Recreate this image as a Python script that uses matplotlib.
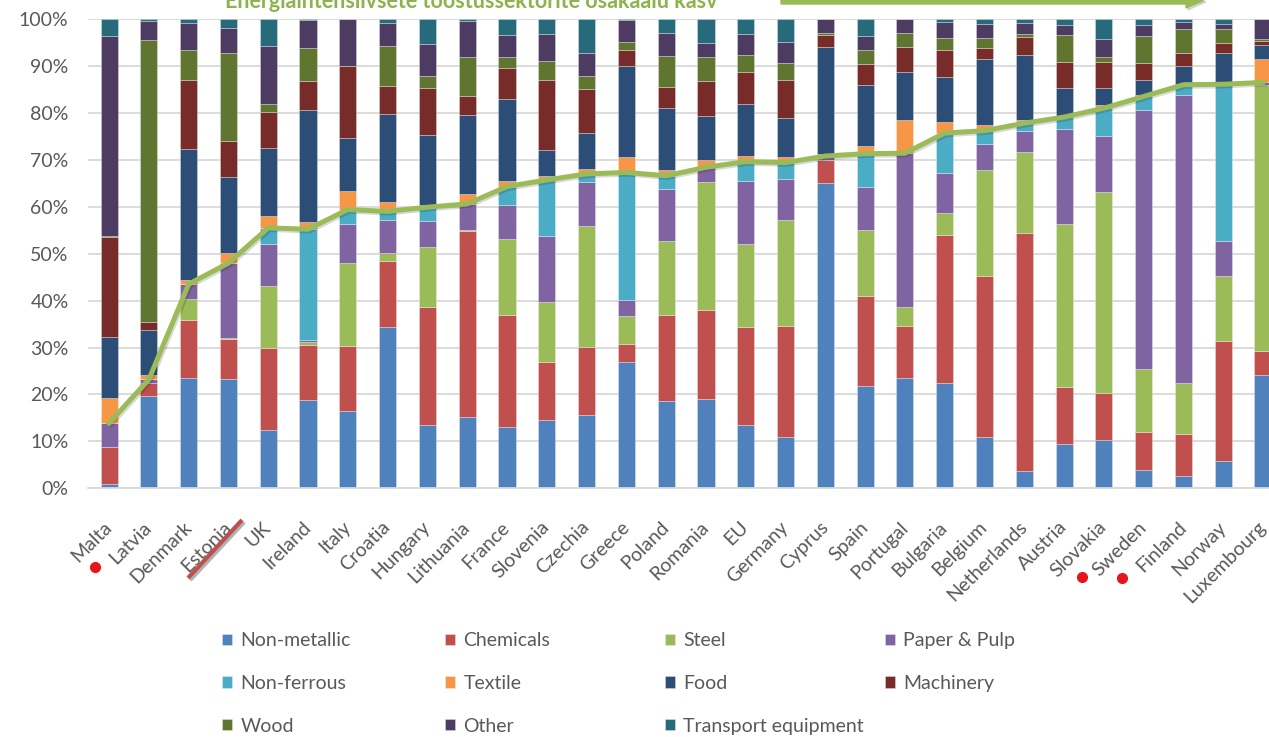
import numpy as np
import matplotlib
matplotlib.use("Agg")
import matplotlib.pyplot as plt
import matplotlib.transforms as mtransforms
import matplotlib.patheffects as pe
from matplotlib.patches import Polygon
from matplotlib.lines import Line2D

countries = ["Malta", "Latvia", "Denmark", "Estonia", "UK", "Ireland", "Italy", "Croatia",
             "Hungary", "Lithuania", "France", "Slovenia", "Czechia", "Greece", "Poland",
             "Romania", "EU", "Germany", "Cyprus", "Spain", "Portugal", "Bulgaria", "Belgium",
             "Netherlands", "Austria", "Slovakia", "Sweden", "Finland", "Norway", "Luxembourg"]

sectors = ["Non-metallic", "Chemicals", "Steel", "Paper & Pulp", "Non-ferrous", "Textile",
           "Food", "Machinery", "Wood", "Other", "Transport equipment"]

non_metallic = [0.9, 19.7, 23.6, 23.2, 12.4, 18.8, 16.5, 34.3, 13.4, 15.1, 13.1, 14.6, 15.6, 26.9, 18.5,
                19.0, 13.5, 10.9, 65.0, 21.7, 23.6, 22.4, 10.9, 3.6, 9.5, 10.3, 3.8, 2.6, 5.8, 24.2]
chemicals = [8.0, 2.7, 12.3, 8.6, 17.6, 11.8, 13.8, 14.2, 25.3, 39.7, 23.9, 12.4, 14.5, 3.8, 18.5,
             18.9, 20.8, 23.6, 4.9, 19.3, 11.0, 31.6, 34.4, 50.7, 12.0, 10.0, 8.1, 9.0, 25.5, 5.1]
steel = [0.0, 0.0, 4.4, 0.2, 13.2, 0.5, 17.8, 1.6, 12.8, 0.2, 16.1, 12.6, 25.7, 6.0, 15.6,
         27.3, 17.8, 22.6, 0.0, 14.1, 4.1, 4.7, 22.5, 17.3, 34.9, 42.8, 13.5, 10.9, 14.0, 56.6]
paper_pulp = [5.0, 0.8, 3.2, 16.0, 8.9, 0.5, 8.3, 7.0, 5.4, 5.6, 7.3, 14.2, 9.4, 3.5, 11.2,
              3.2, 13.3, 8.9, 0.9, 9.1, 32.7, 8.5, 5.6, 4.6, 20.1, 11.9, 55.2, 61.2, 7.5, 0.6]
non_ferrous = [0.0, 0.0, 0.0, 0.0, 3.4, 23.6, 3.0, 1.9, 3.0, 0.0, 3.9, 11.9, 1.8, 27.1, 2.8,
               0.0, 4.2, 3.4, 0.0, 7.1, 0.0, 8.5, 2.8, 1.6, 2.6, 6.0, 2.9, 2.3, 33.3, 0.0]
textile = [5.3, 1.0, 0.9, 2.1, 2.6, 1.5, 3.9, 2.1, 0.5, 2.2, 1.1, 0.9, 1.1, 3.3, 1.3,
           1.5, 1.3, 1.1, 0.4, 1.7, 7.1, 2.4, 1.2, 0.6, 0.3, 0.7, 0.2, 0.2, 0.2, 4.9]
food = [13.0, 9.6, 27.9, 16.2, 14.5, 23.9, 11.3, 18.6, 14.8, 16.8, 17.6, 5.5, 7.6, 19.4, 13.1,
        9.5, 11.0, 8.5, 22.8, 12.9, 10.3, 9.5, 14.0, 13.9, 5.8, 3.5, 3.3, 3.7, 6.5, 3.0]
machinery = [21.3, 1.7, 14.7, 7.6, 7.5, 6.2, 15.4, 6.0, 10.0, 3.9, 6.5, 14.9, 9.3, 3.5, 4.5,
             7.3, 6.9, 8.0, 2.6, 4.5, 5.3, 5.7, 2.5, 3.8, 5.6, 5.7, 3.6, 2.9, 2.0, 0.9]
wood = [0.3, 60.0, 6.5, 18.9, 1.8, 7.0, 0.0, 8.6, 2.7, 8.3, 2.3, 4.1, 2.9, 1.5, 6.7,
        5.1, 3.5, 3.7, 0.5, 3.1, 3.0, 2.7, 2.1, 0.6, 5.8, 1.1, 5.8, 5.0, 3.0, 0.4]
other = [42.6, 4.1, 5.6, 5.2, 12.4, 6.0, 10.0, 4.8, 6.7, 7.8, 4.7, 5.7, 4.9, 4.7, 4.9,
         3.0, 4.5, 4.3, 2.9, 2.9, 2.9, 3.3, 2.9, 2.4, 2.1, 3.7, 2.3, 1.5, 1.1, 4.3]
transport = [3.6, 0.4, 0.9, 2.0, 5.7, 0.2, 0.0, 0.9, 5.4, 0.4, 3.5, 3.2, 7.2, 0.3, 2.9,
             5.2, 3.2, 5.0, 0.0, 3.6, 0.0, 0.7, 1.1, 0.9, 1.3, 4.3, 1.3, 0.7, 1.1, 0.0]

series = [non_metallic, chemicals, steel, paper_pulp, non_ferrous, textile,
          food, machinery, wood, other, transport]
colors = ["#4F81BD", "#C0504D", "#9BBB59", "#8064A2", "#4BACC6", "#F79646",
          "#2C4D75", "#772C2A", "#5F7530", "#4D3B62", "#276A7C"]

title_text = "Energiaintensiivsete tööstussektorite osakaalu kasv"
marked_dots = ["Malta", "Slovakia", "Sweden"]

W, H = 1269, 737
fig = plt.figure(figsize=(W / 100, H / 100), dpi=100)
plt.rcParams['font.family'] = ['Lato', 'DejaVu Sans']
ax = fig.add_axes([88 / W, (H - 488.3) / H, (W - 88) / W, (488.3 - 19) / H])

x = np.arange(len(countries))
bottom = np.zeros(len(countries))
handles = []
for vals, col, name in zip(series, colors, sectors):
    v = np.array(vals)
    b = ax.bar(x, v, 0.43, bottom=bottom, color=col, label=name,
               edgecolor=(1, 1, 1, 0.35), linewidth=0.6, zorder=2)
    handles.append(b)
    bottom += v

energy_share = np.sum(np.array(series[:5]), axis=0)
ax.plot(x, energy_share, color="#9BBB59", lw=3.6, zorder=4, solid_joinstyle='round',
        path_effects=[pe.SimpleLineShadow(offset=(1.2, -1.2), alpha=0.15), pe.Normal()])

ax.set_xlim(-0.53, 29.15)
ax.set_ylim(0, 100)
ax.set_yticks(np.arange(0, 101, 10))
ax.set_yticklabels([f"{t}%" for t in range(0, 101, 10)])
ax.set_xticks(x)
ax.set_xticklabels(countries, rotation=45, ha='right', va='center', rotation_mode='anchor')
ax.tick_params(axis='both', length=0, labelsize=14, labelcolor="#595959")
ax.tick_params(axis='y', pad=14)
ax.tick_params(axis='x', pad=26)
ax.grid(axis='y', color="#D9D9D9", lw=1.3, zorder=0)
ax.set_axisbelow(True)
for s in ['left', 'right', 'top']:
    ax.spines[s].set_visible(False)
ax.spines['bottom'].set_color("#D9D9D9")
ax.spines['bottom'].set_linewidth(1.3)

# legend in 4 columns placed like the original
cols_x = [222, 445, 665, 885]
order = [[0, 4, 8], [1, 5, 9], [2, 6, 10], [3, 7]]
for cx, idxs in zip(cols_x, order):
    leg = fig.legend([handles[i] for i in idxs], [sectors[i] for i in idxs],
                     loc='upper left', bbox_to_anchor=(cx / W, 1 - 632 / H),
                     frameon=False, fontsize=14,
                     handlelength=0.5, handleheight=0.5, handletextpad=0.45,
                     labelspacing=1.33, borderaxespad=0, borderpad=0)
    for t in leg.get_texts():
        t.set_color("#595959")

ident = mtransforms.IdentityTransform()
# title (cut at top edge)
fig.text(225 / W, 1 - 8 / H, title_text, color="#8DB34F", fontsize=15.5, fontweight='bold',
         ha='left', va='baseline')
# arrow
shadow = Polygon([[783, H - 2], [1188, H - 2], [1188, H - 10], [1206, H - 2], [1188, H + 10],
                  [783, H + 10]], closed=True, transform=ident, color='#000000', alpha=0.12)
arrow = Polygon([[781, H + 4], [781, H - 4], [1186, H - 4], [1186, H - 8], [1203, H - 1],
                 [1186, H + 12], [1186, H + 4]], closed=True, transform=ident, color="#9BBB59")
fig.patches.extend([shadow, arrow])

# red highlight marks
dot_pos = {"Malta": (95, 567), "Slovakia": (1082, 577), "Sweden": (1122, 578)}
for name in marked_dots:
    px, py = dot_pos[name]
    fig.lines.append(Line2D([px], [H - py], marker='o', markersize=7, color="#E8141C",
                            transform=ident, linestyle='none'))
fig.lines.append(Line2D([188, 242], [H - 578, H - 520], color="#C0504D", lw=3,
                        transform=ident, solid_capstyle='butt',
                        path_effects=[pe.SimpleLineShadow(offset=(1.5, -1.5), alpha=0.3), pe.Normal()]))

fig.savefig("out.png", dpi=100)
